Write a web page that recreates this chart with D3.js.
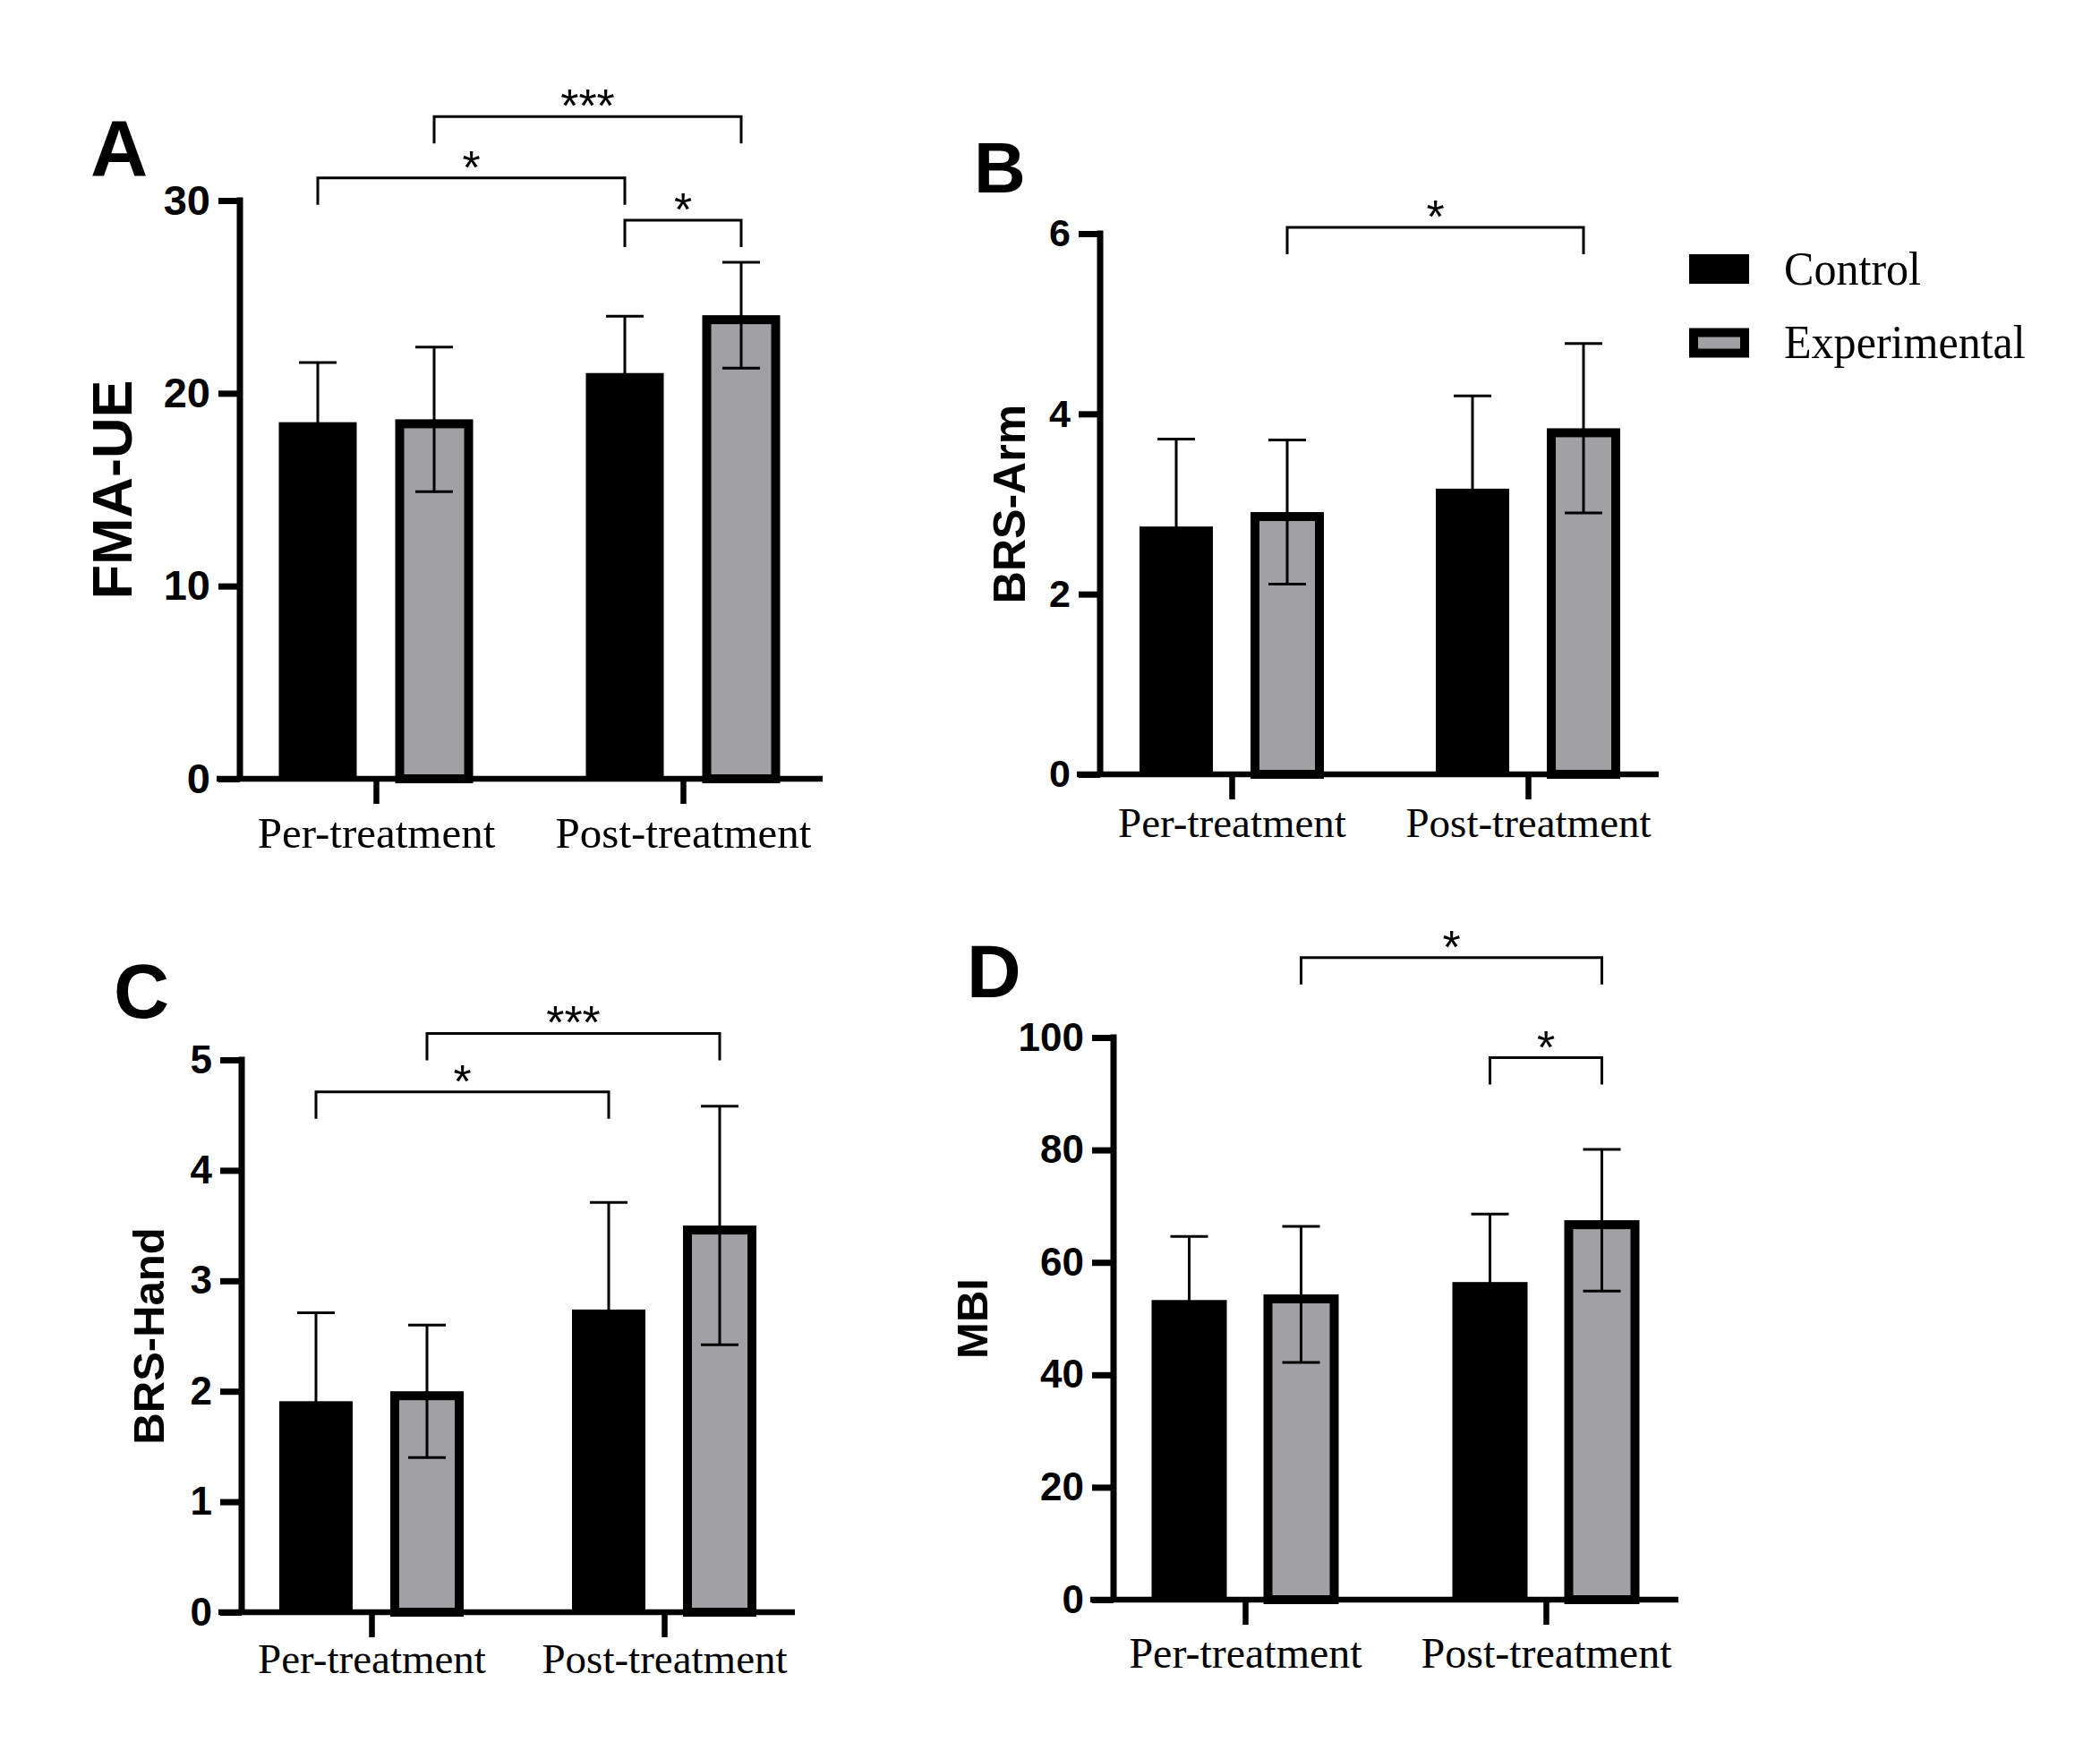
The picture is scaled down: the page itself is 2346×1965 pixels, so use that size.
<!DOCTYPE html>
<html>
<head>
<meta charset="utf-8">
<script src="https://cdn.jsdelivr.net/npm/d3@7/dist/d3.min.js"></script>
<style>
  html, body { margin: 0; padding: 0; background: #fff; }
  svg { display: block; }
</style>
</head>
<body>
<svg id="chart" width="2346" height="1965"></svg>
<script>
// ---------------- DATA ----------------
const categories = ["Per-treatment", "Post-treatment"];
const seriesNames = ["Control", "Experimental"];

// Panel A: FMA-UE
const fmaControlMean = [18.5, 21.05];
const fmaControlSD   = [3.1, 2.95];
const fmaExpMean     = [18.65, 24.05];
const fmaExpSD       = [3.75, 2.75];
const fmaTicks       = [0, 10, 20, 30];
// [category1, series1, category2, series2, level, label]
const fmaSig = [
  ["Per-treatment", "Experimental", "Post-treatment", "Experimental", 34.35, "***"],
  ["Per-treatment", "Control", "Post-treatment", "Control", 31.17, "*"],
  ["Post-treatment", "Control", "Post-treatment", "Experimental", 28.98, "*"]
];

// Panel B: BRS-Arm
const armControlMean = [2.75, 3.17];
const armControlSD   = [0.97, 1.03];
const armExpMean     = [2.91, 3.84];
const armExpSD       = [0.80, 0.94];
const armTicks       = [0, 2, 4, 6];
const armSig = [
  ["Per-treatment", "Experimental", "Post-treatment", "Experimental", 6.07, "*"]
];

// Panel C: BRS-Hand
const handControlMean = [1.91, 2.74];
const handControlSD   = [0.80, 0.97];
const handExpMean     = [2.0, 3.5];
const handExpSD       = [0.60, 1.08];
const handTicks       = [0, 1, 2, 3, 4, 5];
const handSig = [
  ["Per-treatment", "Experimental", "Post-treatment", "Experimental", 5.24, "***"],
  ["Per-treatment", "Control", "Post-treatment", "Control", 4.71, "*"]
];

// Panel D: MBI
const mbiControlMean = [53.3, 56.5];
const mbiControlSD   = [11.3, 12.1];
const mbiExpMean     = [54.3, 67.5];
const mbiExpSD       = [12.1, 12.6];
const mbiTicks       = [0, 20, 40, 60, 80, 100];
const mbiSig = [
  ["Per-treatment", "Experimental", "Post-treatment", "Experimental", 114.2, "*"],
  ["Post-treatment", "Control", "Post-treatment", "Experimental", 96.4, "*"]
];

// ---------------- STYLE / LAYOUT ----------------
const fillColor = { Control: "#000000", Experimental: "#a1a1a5" };
const sansFont = "Arial, 'Liberation Sans', Helvetica, sans-serif";
const serifFont = "'Times New Roman', 'Liberation Serif', Times, serif";

const panels = [
  { letter: "A", ylabel: "FMA-UE", ctrlM: fmaControlMean, ctrlS: fmaControlSD, expM: fmaExpMean, expS: fmaExpSD, ticks: fmaTicks, sig: fmaSig,
    axisX: 268, y0: 870, yTop: 224, xEnd: 919, centers: [420, 763], off: 65, bw: 87,
    tickFont: 47, labelFont: 63, labelX: 147, xLabelOff: 77, xLabelFont: 49,
    letterX: 101, letterY: 197, letterFont: 89, capW: 42 },
  { letter: "B", ylabel: "BRS-Arm", ctrlM: armControlMean, ctrlS: armControlSD, expM: armExpMean, expS: armExpSD, ticks: armTicks, sig: armSig,
    axisX: 1229, y0: 865, yTop: 261, xEnd: 1853, centers: [1376, 1707], off: 62, bw: 82,
    tickFont: 43, labelFont: 50, labelX: 1145, xLabelOff: 70, xLabelFont: 47,
    letterX: 1088, letterY: 215, letterFont: 80, capW: 42 },
  { letter: "C", ylabel: "BRS-Hand", ctrlM: handControlMean, ctrlS: handControlSD, expM: handExpMean, expS: handExpSD, ticks: handTicks, sig: handSig,
    axisX: 270, y0: 1801, yTop: 1184, xEnd: 888, centers: [415, 742], off: 62, bw: 82,
    tickFont: 44, labelFont: 49, labelX: 183, xLabelOff: 68, xLabelFont: 47,
    letterX: 127, letterY: 1137, letterFont: 86, capW: 42 },
  { letter: "D", ylabel: "MBI", ctrlM: mbiControlMean, ctrlS: mbiControlSD, expM: mbiExpMean, expS: mbiExpSD, ticks: mbiTicks, sig: mbiSig,
    axisX: 1244, y0: 1787, yTop: 1159, xEnd: 1875, centers: [1391, 1727], off: 62.5, bw: 84,
    tickFont: 44, labelFont: 49, labelX: 1103, xLabelOff: 76, xLabelFont: 48,
    letterX: 1080, letterY: 1114, letterFont: 84, capW: 42 }
];

const svg = d3.select("#chart");
svg.append("rect").attr("width", 2346).attr("height", 1965).attr("fill", "#fff");

panels.forEach(p => {
  const g = svg.append("g");
  const yMax = p.ticks[p.ticks.length - 1];
  const y = d3.scaleLinear().domain([0, yMax]).range([p.y0, p.yTop]);
  const x0 = d3.scalePoint().domain(categories).range(p.centers);
  const x1 = d3.scaleBand().domain(seriesNames)
    .range([-p.off - p.bw / 2, p.off + p.bw / 2])
    .paddingInner((2 * p.off - p.bw) / (2 * p.off)).paddingOuter(0);

  const rows = [];
  categories.forEach((c, i) => {
    rows.push({ cat: c, ser: "Control", m: p.ctrlM[i], s: p.ctrlS[i] });
    rows.push({ cat: c, ser: "Experimental", m: p.expM[i], s: p.expS[i] });
  });
  const cx = d => x0(d.cat) + x1(d.ser) + x1.bandwidth() / 2;

  // bars
  const sw = 10;
  g.selectAll("rect.bar").data(rows).join("rect")
    .attr("class", "bar")
    .attr("x", d => d.ser === "Experimental" ? x0(d.cat) + x1(d.ser) + sw / 2 : x0(d.cat) + x1(d.ser))
    .attr("width", d => d.ser === "Experimental" ? x1.bandwidth() - sw : x1.bandwidth())
    .attr("y", d => d.ser === "Experimental" ? y(d.m) + sw / 2 : y(d.m))
    .attr("height", d => d.ser === "Experimental" ? y(0) - y(d.m) - sw / 2 : y(0) - y(d.m))
    .attr("fill", d => fillColor[d.ser])
    .attr("stroke", d => d.ser === "Experimental" ? "#000" : "none")
    .attr("stroke-width", sw);

  // error bars
  const eg = g.selectAll("g.err").data(rows).join("g").attr("class", "err")
    .attr("stroke", "#000").attr("stroke-width", 3);
  eg.append("line").attr("x1", cx).attr("x2", cx)
    .attr("y1", d => y(d.m - d.s)).attr("y2", d => y(d.m + d.s));
  eg.append("line").attr("x1", d => cx(d) - p.capW / 2).attr("x2", d => cx(d) + p.capW / 2)
    .attr("y1", d => y(d.m + d.s)).attr("y2", d => y(d.m + d.s));
  eg.append("line").attr("x1", d => cx(d) - p.capW / 2).attr("x2", d => cx(d) + p.capW / 2)
    .attr("y1", d => y(d.m - d.s)).attr("y2", d => y(d.m - d.s));

  // x axis line
  g.append("line").attr("x1", p.axisX - 26).attr("x2", p.xEnd)
    .attr("y1", p.y0).attr("y2", p.y0)
    .attr("stroke", "#000").attr("stroke-width", 6.5);

  // x axis ticks + labels
  const xa = g.append("g").attr("transform", `translate(0,${p.y0})`)
    .call(d3.axisBottom(x0).tickSize(28).tickSizeOuter(0));
  xa.select(".domain").remove();
  xa.selectAll(".tick line").attr("stroke", "#000").attr("stroke-width", 6.5);
  xa.selectAll(".tick text")
    .attr("y", p.xLabelOff).attr("dy", 0)
    .attr("fill", "#000")
    .style("font-family", serifFont).style("font-size", p.xLabelFont + "px");

  // y axis
  const ya = g.append("g").attr("transform", `translate(${p.axisX},0)`)
    .call(d3.axisLeft(y).tickValues(p.ticks).tickFormat(d3.format("d")).tickSize(24).tickSizeOuter(0).tickPadding(9));
  ya.select(".domain").attr("stroke", "#000").attr("stroke-width", 7)
    .attr("d", `M0,${p.yTop - 3.5}V${p.y0}`);
  ya.selectAll(".tick line").attr("stroke", "#000").attr("stroke-width", 7);
  ya.selectAll(".tick text").attr("fill", "#000")
    .style("font-family", sansFont).style("font-weight", "bold").style("font-size", p.tickFont + "px");

  // y label
  g.append("text")
    .attr("transform", `translate(${p.labelX},${(p.y0 + p.yTop) / 2}) rotate(-90)`)
    .attr("text-anchor", "middle")
    .style("font-family", sansFont).style("font-weight", "bold").style("font-size", p.labelFont + "px")
    .text(p.ylabel);

  // panel letter
  g.append("text").attr("x", p.letterX).attr("y", p.letterY)
    .style("font-family", sansFont).style("font-weight", "bold").style("font-size", p.letterFont + "px")
    .text(p.letter);

  // significance brackets
  const leg = 30;
  p.sig.forEach(s => {
    const xa1 = x0(s[0]) + x1(s[1]) + x1.bandwidth() / 2;
    const xa2 = x0(s[2]) + x1(s[3]) + x1.bandwidth() / 2;
    const yl = y(s[4]);
    g.append("path")
      .attr("d", `M${xa1},${yl + leg}V${yl}H${xa2}V${yl + leg}`)
      .attr("fill", "none").attr("stroke", "#000").attr("stroke-width", 3);
    g.append("text").attr("x", (xa1 + xa2) / 2).attr("y", yl + 6)
      .attr("text-anchor", "middle")
      .style("font-family", sansFont).style("font-size", "52px")
      .text(s[5]);
  });
});

// legend
const legendItems = seriesNames;
const lg = svg.append("g");
const ly = d3.scalePoint().domain(legendItems).range([300.5, 383]);
lg.selectAll("rect").data(legendItems).join("rect")
  .attr("x", d => d === "Experimental" ? 1892 : 1887)
  .attr("y", d => d === "Experimental" ? ly(d) - 11.5 : ly(d) - 16.5)
  .attr("width", d => d === "Experimental" ? 57 : 67)
  .attr("height", d => d === "Experimental" ? 23 : 33)
  .attr("fill", d => fillColor[d])
  .attr("stroke", d => d === "Experimental" ? "#000" : "none")
  .attr("stroke-width", 10);
lg.selectAll("text").data(legendItems).join("text")
  .attr("transform", d => `translate(1993,${ly(d) + 17}) scale(0.945,1)`)
  .style("font-family", serifFont).style("font-size", "53px")
  .text(d => d);
</script>
</body>
</html>
